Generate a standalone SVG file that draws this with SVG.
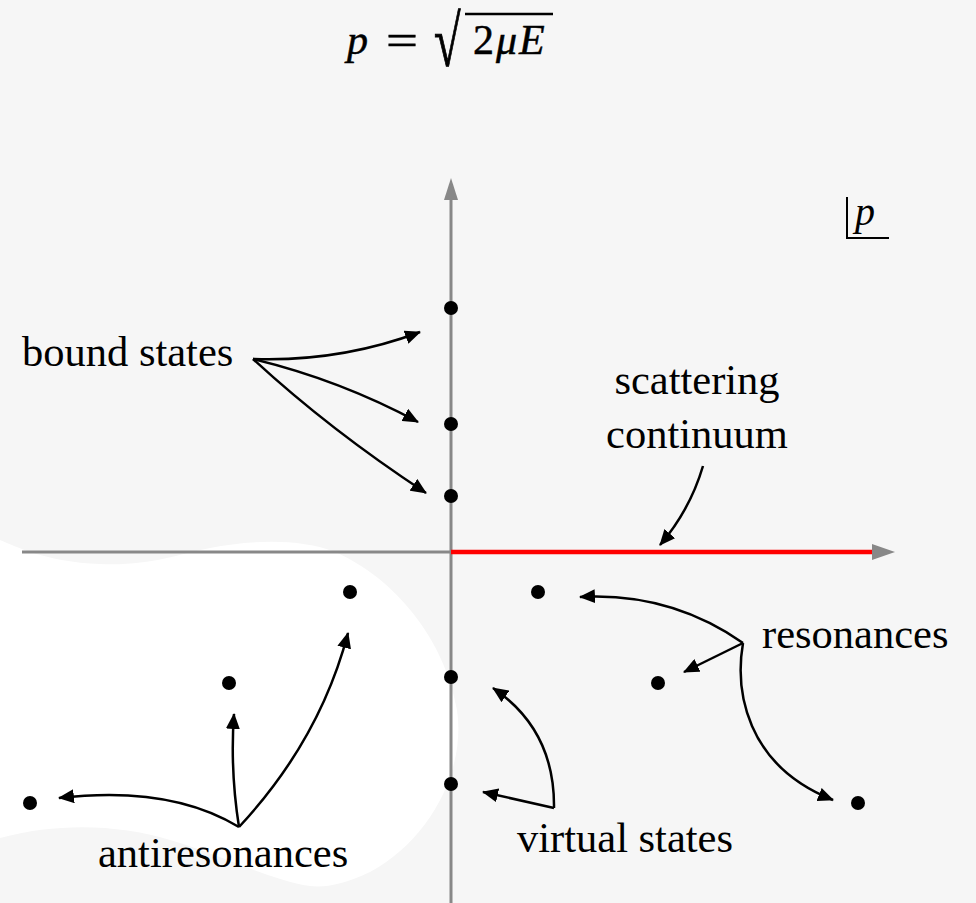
<svg xmlns="http://www.w3.org/2000/svg" width="976" height="903" viewBox="0 0 976 903">
<defs>
<style>
text{font-family:"Liberation Serif","Times New Roman","DejaVu Serif",serif;fill:#000}
.lbl{font-size:42.5px}
.ax{stroke:#888;stroke-width:3;fill:none}
.arr{stroke:#000;stroke-width:2.5;fill:none;marker-end:url(#ah)}
.dot{fill:#000}
</style>
<marker id="ah" viewBox="0 0 16 14" refX="15" refY="7" markerWidth="16" markerHeight="14" markerUnits="userSpaceOnUse" orient="auto">
<path d="M0,0 L16,7 L0,14 Z" fill="#000"/>
</marker>
</defs>
<rect width="976" height="903" fill="#f6f6f6"/>
<path id="region" d="M0,540 C15,546 45,562 100,564 C150,566 175,555 210,548 C250,540 300,538 335,552 C395,578 445,640 457,710 C466,770 430,840 370,872 C345,884 325,888 310,886 C270,880 230,858 170,840 C120,825 60,822 0,838 Z" fill="#ffffff"/>
<g id="axes">
<line class="ax" x1="451" y1="903" x2="451" y2="198"/>
<path d="M451,178 L458,200 L444,200 Z" fill="#888"/>
<line class="ax" x1="22" y1="552" x2="874" y2="552"/>
<line x1="451" y1="552" x2="875" y2="552" stroke="#ff0000" stroke-width="4.5"/>
<path d="M895,552 L872,544 L872,560 Z" fill="#888"/>
</g>
<g id="formula">
<text x="347" y="54" font-size="42" font-style="italic" stroke="#000" stroke-width="0.5">p</text>
<text x="386" y="54" font-size="42" stroke="#000" stroke-width="0.5" transform="translate(386,0) scale(1.35,1) translate(-386,0)">=</text>
<text x="434" y="66" font-size="44" stroke="#000" stroke-width="0.6" transform="translate(434,66) scale(1.1,1.64) translate(-434,-66)">√</text>
<line x1="465" y1="14" x2="553" y2="14" stroke="#000" stroke-width="2.5"/>
<text x="473" y="54" font-size="42" letter-spacing="2" stroke="#000" stroke-width="0.5">2<tspan font-style="italic">μE</tspan></text>
</g>
<g id="plane-label">
<path d="M847,197 L847,238 L889,238" stroke="#000" stroke-width="2" fill="none"/>
<text x="855" y="225" font-size="40" font-style="italic">p</text>
</g>
<g id="bound-states">
<text class="lbl" x="22" y="366">bound states</text>
<circle class="dot" cx="451" cy="308" r="7"/>
<circle class="dot" cx="451" cy="424" r="7"/>
<circle class="dot" cx="451" cy="496" r="7"/>
</g>
<g id="scattering-continuum">
<text class="lbl" x="697" y="394" text-anchor="middle">scattering</text>
<text class="lbl" x="697" y="448" text-anchor="middle">continuum</text>
</g>
<g id="resonances">
<text class="lbl" x="762" y="648">resonances</text>
<circle class="dot" cx="538" cy="592" r="7"/>
<circle class="dot" cx="658" cy="683" r="7"/>
<circle class="dot" cx="858" cy="803" r="7"/>
</g>
<g id="virtual-states">
<text class="lbl" x="517" y="852">virtual states</text>
<circle class="dot" cx="451" cy="677" r="7"/>
<circle class="dot" cx="451" cy="784" r="7"/>
</g>
<g id="antiresonances">
<text class="lbl" x="98" y="867">antiresonances</text>
<circle class="dot" cx="350" cy="592" r="7"/>
<circle class="dot" cx="229" cy="683" r="7"/>
<circle class="dot" cx="30" cy="803" r="7"/>
</g>
<g id="connectors">
<path class="arr" d="M253,359 Q340,362 420,332"/>
<path class="arr" d="M253,359 Q340,380 418,422"/>
<path class="arr" d="M253,359 Q330,430 426,493"/>
<path class="arr" d="M703,466 Q690,510 660,545"/>
<path class="arr" d="M743,643 Q670,592 580,597"/>
<path class="arr" d="M743,643 L684,672"/>
<path class="arr" d="M743,643 C735,690 745,765 833,800"/>
<path class="arr" d="M554,808 Q555,730 493,688"/>
<path class="arr" d="M554,808 L483,792"/>
<path class="arr" d="M239,827 Q170,785 59,798"/>
<path class="arr" d="M239,827 Q230,770 234,714"/>
<path class="arr" d="M239,827 Q320,740 348,633"/>
</g>
</svg>
